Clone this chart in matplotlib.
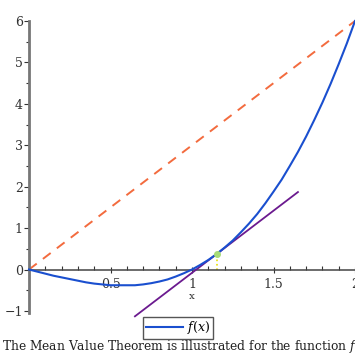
#!/usr/bin/env python
# -*- coding: utf-8 -*-
"""Mean value theorem picture for f(x) = x^3 - x on [0, 2]."""
import matplotlib
matplotlib.use("Agg")
import matplotlib.pyplot as plt
from matplotlib.ticker import MultipleLocator, FixedLocator

# curve values
curve_x = [0.0, 0.05, 0.1, 0.15, 0.2, 0.25, 0.3, 0.35, 0.4, 0.45, 0.5,
           0.55, 0.6, 0.65, 0.7, 0.75, 0.8, 0.85, 0.9, 0.95, 1.0,
           1.05, 1.1, 1.15, 1.2, 1.25, 1.3, 1.35, 1.4, 1.45, 1.5,
           1.55, 1.6, 1.65, 1.7, 1.75, 1.8, 1.85, 1.9, 1.95, 2.0]
curve_y = [0.0, -0.05, -0.10, -0.15, -0.19, -0.23, -0.27, -0.31, -0.34, -0.36, -0.38,
           -0.38, -0.38, -0.38, -0.36, -0.33, -0.29, -0.24, -0.17, -0.09, 0.0,
           0.11, 0.23, 0.37, 0.53, 0.70, 0.90, 1.11, 1.34, 1.60, 1.88,
           2.17, 2.50, 2.84, 3.21, 3.61, 4.03, 4.48, 4.96, 5.46, 6.0]

# secant through the end points
secant_x = [0.0, 2.0]
secant_y = [0.0, 6.0]

# tangent at the mean value point
tangent_x = [0.65, 1.65]
tangent_y = [-1.13, 1.87]

c_point = 1.155
fc_point = 0.385

x_ticks = [0.5, 1, 1.5, 2]
x_labels = ["0.5", "1", "1.5", "2"]
y_ticks = [-1, 0, 1, 2, 3, 4, 5, 6]

plt.rcParams["font.family"] = "DejaVu Serif"
plt.rcParams["mathtext.fontset"] = "dejavuserif"

fig = plt.figure(figsize=(3.55, 3.55), dpi=100)
ax = fig.add_axes([29 / 355, 42 / 355, 326 / 355, 292 / 355])
ax.set_xlim(0, 2)
ax.set_ylim(-1.05, 6)

ax.plot(secant_x, secant_y, color="#f36b3e", lw=1.4, dashes=(5, 4), clip_on=False, zorder=2)
ax.plot(tangent_x, tangent_y, color="#6b1a8f", lw=1.3, clip_on=False, zorder=3)
ax.plot([c_point, c_point], [0, fc_point], color="#e8e000", lw=1.2, ls=":", zorder=2)
ax.plot(curve_x, curve_y, color="#1a4fcf", lw=1.5, label="$f(x)$", clip_on=False, zorder=4)
ax.plot([c_point], [fc_point], "o", color="#a8dc78", ms=4, zorder=5)

for side in ["top", "right"]:
    ax.spines[side].set_visible(False)
ax.spines["left"].set_position(("data", 0))
ax.spines["bottom"].set_position(("data", 0))
ax.spines["left"].set_color("#777777")
ax.spines["left"].set_linewidth(2)
ax.spines["bottom"].set_color("#444444")
ax.spines["bottom"].set_linewidth(1.1)
ax.spines["left"].set_bounds(-1.05, 6)

ax.xaxis.set_major_locator(FixedLocator(x_ticks))
ax.set_xticklabels(x_labels)
ax.xaxis.set_minor_locator(MultipleLocator(0.1))
ax.yaxis.set_major_locator(FixedLocator(y_ticks))
ax.yaxis.set_minor_locator(MultipleLocator(0.5))

ax.tick_params(axis="x", which="major", direction="inout", length=4, width=0.8,
               pad=4, labelsize=9, colors="#333333")
ax.tick_params(axis="x", which="minor", direction="in", length=3, width=0.8, colors="#333333")
ax.tick_params(axis="y", which="major", direction="out", length=3.5, width=0.8,
               pad=1, labelsize=9, colors="#333333")
ax.tick_params(axis="y", which="minor", direction="out", length=2, width=0.8, colors="#333333")

ax.text(1, -0.64, "x", ha="center", va="center", fontsize=7.5, color="#333333")

fig.legend(loc="center", bbox_to_anchor=(178 / 355, 1 - 328 / 355), fontsize=9,
           fancybox=False, edgecolor="#555555", framealpha=1, handlelength=3.0,
           borderpad=0.2, handletextpad=0.3, borderaxespad=0)

fig.text(2 / 355, 4 / 355,
         "The Mean Value Theorem is illustrated for the function $f(x) = x^3 - x$",
         ha="left", va="baseline", fontsize=8.8, color="#222222")

fig.savefig("out.png", dpi=100)
